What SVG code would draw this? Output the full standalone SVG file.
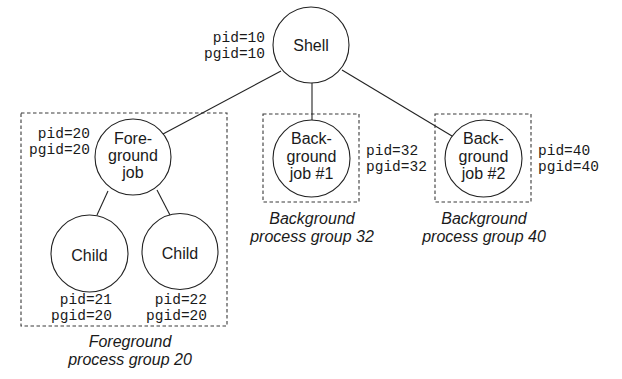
<svg xmlns="http://www.w3.org/2000/svg" width="622" height="379" viewBox="0 0 622 379">
<style>
.n{fill:#fff;stroke:#222;stroke-width:1.1}
.box{fill:none;stroke:#3a3a3a;stroke-width:1.1;stroke-dasharray:3.5,2.5}
.t{font-family:"Liberation Sans",Arial,sans-serif;font-size:16px;fill:#1a1a1a;text-anchor:middle}
.c{font-family:"Liberation Sans",Arial,sans-serif;font-size:16px;font-style:italic;fill:#1a1a1a;text-anchor:middle}
.m{font-family:"Liberation Mono","Courier New",monospace;font-size:14.5px;fill:#1a1a1a}
.r{text-anchor:end}
.e{stroke:#222;stroke-width:1.1;fill:none}
</style>
<rect width="622" height="379" fill="#fff"/>
<g id="groups">
<rect class="box" x="21" y="113" width="206" height="213"/>
<rect class="box" x="263" y="114" width="96" height="88"/>
<rect class="box" x="435" y="114" width="96" height="88"/>
</g>
<g id="connectors">
<line class="e" x1="281" y1="71" x2="163" y2="134"/>
<line class="e" x1="312" y1="83" x2="312" y2="120"/>
<line class="e" x1="342" y1="70" x2="452" y2="136"/>
<line class="e" x1="108" y1="191" x2="97" y2="215"/>
<line class="e" x1="157" y1="190" x2="171" y2="217"/>
</g>
<g id="shell">
<circle class="n" cx="311" cy="45" r="38"/>
<text class="t" x="311" y="51">Shell</text>
<text class="m r" x="265" y="42">pid=10</text>
<text class="m r" x="265" y="58">pgid=10</text>
</g>
<g id="foreground-job">
<circle class="n" cx="133" cy="157" r="38"/>
<text class="t" x="133" y="144">Fore-</text>
<text class="t" x="133" y="161">ground</text>
<text class="t" x="133" y="178">job</text>
<text class="m r" x="90" y="138">pid=20</text>
<text class="m r" x="90" y="154">pgid=20</text>
</g>
<g id="child1">
<circle class="n" cx="89.5" cy="253.5" r="38.5"/>
<text class="t" x="89.5" y="261">Child</text>
<text class="m r" x="112" y="304">pid=21</text>
<text class="m r" x="112" y="320">pgid=20</text>
</g>
<g id="child2">
<circle class="n" cx="180" cy="251.5" r="38"/>
<text class="t" x="180" y="259">Child</text>
<text class="m r" x="207" y="304">pid=22</text>
<text class="m r" x="207" y="320">pgid=20</text>
</g>
<g id="background-job-1">
<circle class="n" cx="311.5" cy="158.5" r="38.5"/>
<text class="t" x="311.5" y="144">Back-</text>
<text class="t" x="311.5" y="162">ground</text>
<text class="t" x="311.5" y="179">job #1</text>
<text class="m" x="366" y="155">pid=32</text>
<text class="m" x="366" y="171">pgid=32</text>
</g>
<g id="background-job-2">
<circle class="n" cx="483.5" cy="158.5" r="38.5"/>
<text class="t" x="483.5" y="144">Back-</text>
<text class="t" x="483.5" y="162">ground</text>
<text class="t" x="483.5" y="179">job #2</text>
<text class="m" x="538" y="155">pid=40</text>
<text class="m" x="538" y="171">pgid=40</text>
</g>
<g id="captions">
<text class="c" x="312" y="224">Background</text>
<text class="c" x="312" y="242">process group 32</text>
<text class="c" x="484" y="224">Background</text>
<text class="c" x="484" y="242">process group 40</text>
<text class="c" x="130" y="347">Foreground</text>
<text class="c" x="130" y="365">process group 20</text>
</g>
</svg>
